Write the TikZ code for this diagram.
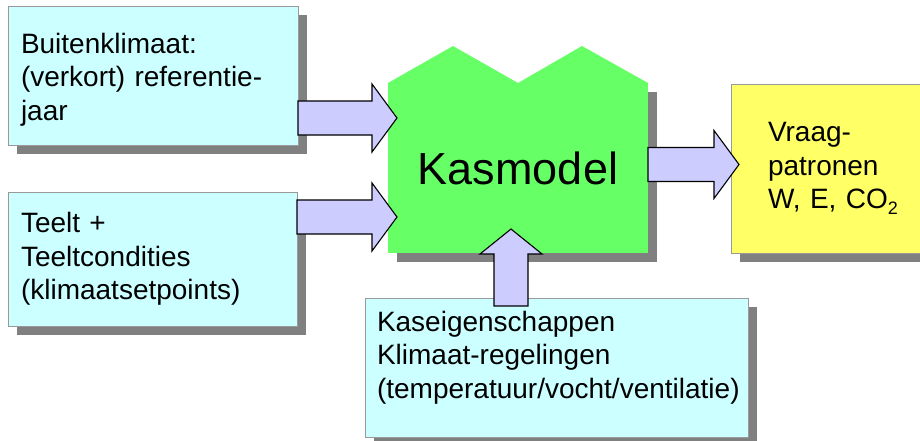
\documentclass[tikz,border=0pt]{standalone}
\usepackage{fontspec}
\setmainfont{Liberation Sans}
\usetikzlibrary{calc,shadows}

\definecolor{boxcyan}{HTML}{CCFFFF}
\definecolor{kasgreen}{HTML}{66FF66}
\definecolor{vraagyellow}{HTML}{FFFF66}
\definecolor{arrowblue}{HTML}{CCCCFF}

\tikzset{
  infobox/.style={rectangle,draw=black!40,line width=0.8pt,fill=boxcyan,
    anchor=north west,align=left,inner xsep=13pt,inner ysep=0pt,outer sep=0pt,
    font=\fontsize{28}{33.5}\selectfont,
    drop shadow={shadow xshift=9pt,shadow yshift=-9pt,fill=black!50,opacity=1}},
  blockarrow/.style={draw=black,line width=1.1pt,line join=miter,fill=arrowblue,
    to path={
      ($(\tikztostart)!17pt!90:(\tikztotarget)$)
      -- ($(\tikztotarget)!25pt!(\tikztostart)!17pt!90:(\tikztotarget)$)
      -- ($(\tikztotarget)!25pt!(\tikztostart)!#1pt!90:(\tikztotarget)$)
      -- (\tikztotarget)
      -- ($(\tikztotarget)!25pt!(\tikztostart)!#1pt!-90:(\tikztotarget)$)
      -- ($(\tikztotarget)!25pt!(\tikztostart)!17pt!-90:(\tikztotarget)$)
      -- ($(\tikztostart)!17pt!-90:(\tikztotarget)$)
      -- cycle}},
  blockarrow/.default=34
}

\begin{document}
\begin{tikzpicture}[x=1pt,y=-1pt]
  \clip (0,0) rectangle (920,441);

  % invoer
  \node[infobox,text width=264pt,minimum height=139pt,text height=28pt] (buiten) at (8,6)
    {Buitenklimaat:\\(verkort) referentie-\\jaar};
  \node[infobox,text width=263pt,minimum height=134pt] (teelt) at (8,192)
    {Teelt +\\Teeltcondities\\(klimaatsetpoints)};

  % kas
  \node[rectangle,fill=kasgreen,anchor=north west,outer sep=0pt,
    minimum width=260pt,minimum height=170pt,font=\fontsize{45}{54}\selectfont,
    drop shadow={shadow xshift=9pt,shadow yshift=-9pt,fill=black!50,opacity=1}]
    (kas) at (388,83) {Kasmodel};
  \fill[kasgreen] ($(kas.north west)+(0,2)$) -- (kas.north west)
    -- ++(65,-37) -- ++(65,37) -- ++(64,-37) -- ++(66,37)
    -- ($(kas.north east)+(0,2)$) -- cycle;

  \node[infobox,text width=359pt,inner xsep=12pt,minimum height=139pt,
    text depth=93pt] (kaseig) at (365,298)
    {Kaseigenschappen\\Klimaat-regelingen\\(temperatuur/vocht/ventilatie)};

  % uitvoer
  \node[infobox,fill=vraagyellow,text width=170pt,inner xsep=37pt,
    minimum height=169pt] (vraag) at (731,84)
    {Vraag-\\patronen\\W, E, CO\raisebox{-6pt}{\fontsize{18}{18}\selectfont 2}};

  % pijlen
  \coordinate (in1) at ($(kas.west)+(9,-50)$);
  \coordinate (in2) at ($(kas.west)+(9,49)$);
  \coordinate (out) at ($(vraag.west)+(8,-4)$);
  \coordinate (up) at ($(kas.south)+(-7,-24)$);

  \draw[blockarrow] (buiten.east |- in1) to (in1);
  \draw[blockarrow] (teelt.east |- in2) to (in2);
  \draw[blockarrow] (kas.east |- out) to (out);
  \draw[blockarrow=31] ($(up |- kaseig.north)+(0,8)$) to (up);
\end{tikzpicture}
\end{document}
